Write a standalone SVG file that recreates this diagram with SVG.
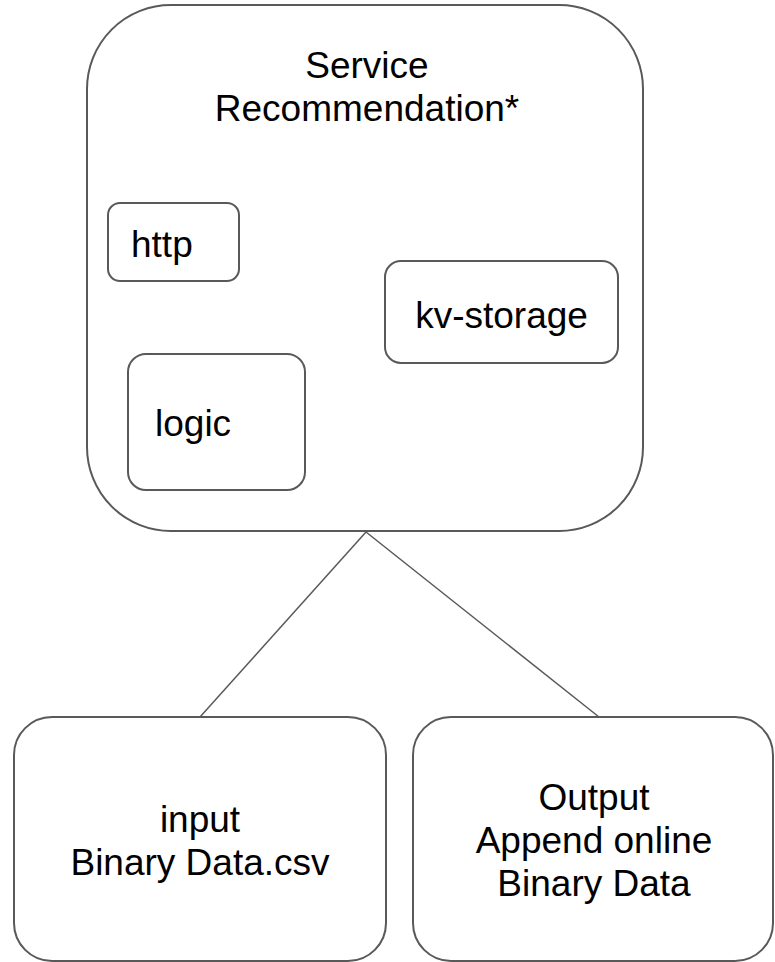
<svg xmlns="http://www.w3.org/2000/svg" width="775" height="962" viewBox="0 0 775 962">
  <style>
    .box { fill: #ffffff; stroke: #595959; stroke-width: 2; }
    .edge { stroke: #595959; stroke-width: 1.5; fill: none; }
    .lbl { font-family: "Liberation Sans", Arial, sans-serif; font-size: 37px; fill: #000000; }
    .mid { text-anchor: middle; }
  </style>
  <rect width="775" height="962" fill="#ffffff"/>

  <!-- links from the service to its data sources -->
  <g id="connectors">
    <line class="edge" x1="366" y1="532" x2="200" y2="717"/>
    <line class="edge" x1="366" y1="532" x2="599" y2="717"/>
  </g>

  <g id="service">
    <rect class="box" x="87" y="5" width="556" height="526" rx="84" ry="84"/>
    <text class="lbl mid" x="367" y="78">Service</text>
    <text class="lbl mid" x="367" y="121">Recommendation*</text>
  </g>

  <g id="http">
    <rect class="box" x="108" y="203" width="131" height="78" rx="12" ry="12"/>
    <text class="lbl" x="131" y="257">http</text>
  </g>

  <g id="kv-storage">
    <rect class="box" x="385" y="261" width="233" height="102" rx="16" ry="16"/>
    <text class="lbl mid" x="501.5" y="328">kv-storage</text>
  </g>

  <g id="logic">
    <rect class="box" x="128" y="354" width="177" height="136" rx="18" ry="18"/>
    <text class="lbl" x="155" y="436">logic</text>
  </g>

  <g id="input">
    <rect class="box" x="14" y="717" width="372" height="244" rx="38" ry="38"/>
    <text class="lbl mid" x="200" y="832">input</text>
    <text class="lbl mid" x="200" y="875">Binary Data.csv</text>
  </g>

  <g id="output">
    <rect class="box" x="413" y="717" width="360" height="244" rx="38" ry="38"/>
    <text class="lbl mid" x="594" y="810">Output</text>
    <text class="lbl mid" x="594" y="853">Append online</text>
    <text class="lbl mid" x="594" y="896">Binary Data</text>
  </g>
</svg>
